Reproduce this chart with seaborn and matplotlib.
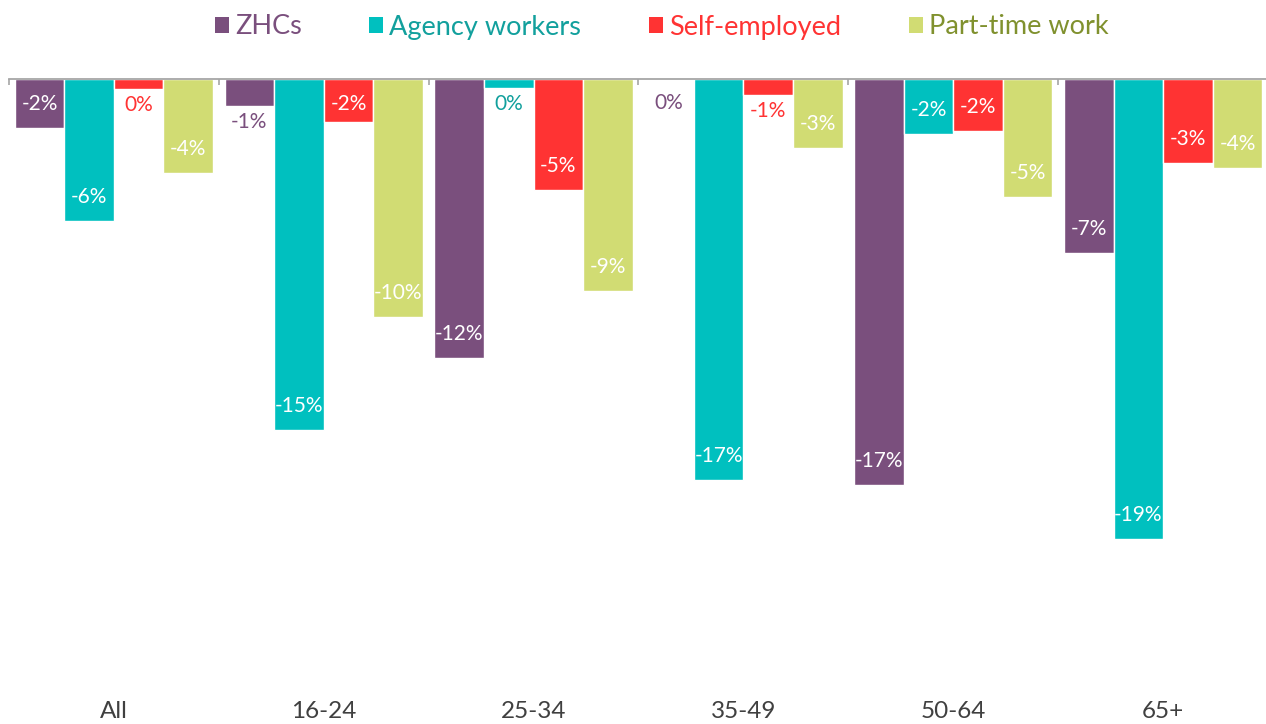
import pandas as pd
import matplotlib.pyplot as plt
import seaborn as sns
from matplotlib.patches import Patch

sns.set_style("white")
plt.rcParams["font.family"] = ["Lato", "DejaVu Sans"]

groups = ["All", "16-24", "25-34", "35-49", "50-64", "65+"]
series = ["ZHCs", "Agency workers", "Self-employed", "Part-time work"]

# change in %
zhcs = [-2.02, -1.11, -11.55, 0.0, -16.8, -7.2]
agency = [-5.87, -14.53, -0.36, -16.6, -2.28, -19.06]
self_emp = [-0.43, -1.77, -4.61, -0.67, -2.15, -3.49]
part_time = [-3.88, -9.86, -8.78, -2.87, -4.87, -3.70]

bar_colors = ["#7a4f7d", "#00c0bf", "#ff3333", "#d1dc73"]
text_colors = ["#7a4f7d", "#12a09d", "#ff3333", "#80912e"]

DPI = 100
W, H = 1266, 724


def build_frame():
    rows = []
    for name, vals in zip(series, [zhcs, agency, self_emp, part_time]):
        for g, v in zip(groups, vals):
            rows.append({"group": g, "series": name, "value": v})
    return pd.DataFrame(rows)


def main():
    df = build_frame()
    fig = plt.figure(figsize=(W / DPI, H / DPI), dpi=DPI)
    top = 79
    bottom = 695
    # the axis runs slightly past the right edge of the image
    ax = fig.add_axes([9 / W, 1 - bottom / H, (1268 - 9) / W, (bottom - top) / H])

    sns.barplot(data=df, x="group", y="value", hue="series", order=groups,
                hue_order=series, palette=bar_colors, width=0.945,
                saturation=1, ax=ax, legend=False, errorbar=None)

    ax.set_ylim(-25.5, 0)
    ax.set_xlim(-0.5, 5.5)
    ax.set_xlabel("")
    ax.set_ylabel("")
    ax.set_yticks([])

    for side in ["left", "right", "bottom"]:
        ax.spines[side].set_visible(False)
    ax.spines["top"].set_color("#a6a6a6")
    ax.spines["top"].set_linewidth(1.3)

    ax.set_xticks(range(len(groups)))
    ax.set_xticklabels(groups, fontsize=17.5, color="#404040")
    ax.tick_params(axis="x", which="major", length=0, pad=4)
    ax.set_xticks([i - 0.5 for i in range(len(groups) + 1)], minor=True)
    ax.tick_params(axis="x", which="minor", top=True, bottom=False,
                   direction="in", length=4.5, width=1.2, color="#a6a6a6")

    # pixels per percentage point
    p0 = ax.transData.transform((0, 0))[1]
    p1 = ax.transData.transform((0, -1))[1]
    pxu = p0 - p1
    pt = 72 / DPI

    all_vals = [zhcs, agency, self_emp, part_time]
    for cont, vals, tcol in zip(ax.containers, all_vals, text_colors):
        for bar, v in zip(cont, vals):
            x = bar.get_x() + bar.get_width() / 2
            label = f"{int(round(v))}%"
            h_px = abs(v) * pxu
            if abs(v) < 1.5:
                off = -max(16, 24 - h_px) if v == 0 else -16
                ax.annotate(label, (x, v), xytext=(0, off * pt),
                            textcoords="offset points", ha="center",
                            va="center", fontsize=15, color=tcol)
            else:
                off = min(24, h_px - 25)
                ax.annotate(label, (x, v), xytext=(0, off * pt),
                            textcoords="offset points", ha="center",
                            va="center", fontsize=15, color="white")

    handles = [Patch(facecolor=c, edgecolor="none") for c in bar_colors]
    leg = fig.legend(handles, series, loc="center",
                     bbox_to_anchor=(661.5 / W, 1 - 27 / H), ncol=4,
                     frameon=False, fontsize=19.5, handlelength=0.52,
                     handleheight=0.52, handletextpad=0.22, columnspacing=2.5)
    for t, c in zip(leg.get_texts(), text_colors):
        t.set_color(c)

    fig.savefig("out.png", dpi=DPI)
    plt.close(fig)


if __name__ == "__main__":
    main()
